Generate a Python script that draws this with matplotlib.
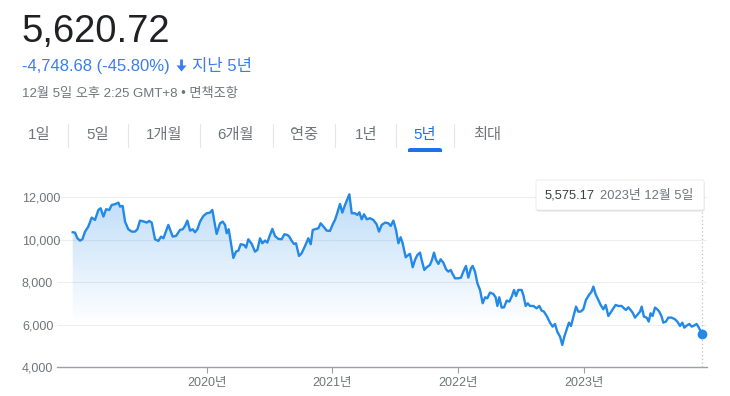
import matplotlib
matplotlib.use("Agg")
import matplotlib.pyplot as plt
import numpy as np
from matplotlib.patches import FancyBboxPatch, Polygon, Rectangle
from matplotlib.lines import Line2D

plt.rcParams['font.family'] = ['Liberation Sans', 'Noto Sans CJK KR', 'DejaVu Sans']

# ---------------- data ----------------
years = [2018.935, 2018.953, 2018.972, 2018.993, 2019.012, 2019.033, 2019.059, 2019.086, 2019.112, 2019.139,
         2019.157, 2019.179, 2019.200, 2019.226, 2019.245, 2019.271, 2019.298, 2019.311, 2019.332, 2019.351,
         2019.377, 2019.404, 2019.430, 2019.449, 2019.470, 2019.502, 2019.523, 2019.544, 2019.563, 2019.589,
         2019.616, 2019.637, 2019.656, 2019.695, 2019.730, 2019.756, 2019.788, 2019.809, 2019.828, 2019.846,
         2019.868, 2019.889, 2019.907, 2019.926, 2019.947, 2019.974, 2020.000, 2020.026, 2020.045, 2020.061,
         2020.079, 2020.106, 2020.127, 2020.146, 2020.159, 2020.175, 2020.193, 2020.212, 2020.233, 2020.252,
         2020.270, 2020.297, 2020.313, 2020.331, 2020.358, 2020.384, 2020.403, 2020.424, 2020.442, 2020.464,
         2020.482, 2020.503, 2020.522, 2020.543, 2020.570, 2020.596, 2020.617, 2020.641, 2020.657, 2020.676,
         2020.694, 2020.710, 2020.734, 2020.755, 2020.782, 2020.808, 2020.827, 2020.843, 2020.869, 2020.888,
         2020.906, 2020.933, 2020.954, 2020.980, 2021.002, 2021.020, 2021.039, 2021.060, 2021.078, 2021.100,
         2021.118, 2021.134, 2021.153, 2021.179, 2021.198, 2021.214, 2021.232, 2021.251, 2021.272, 2021.298,
         2021.325, 2021.351, 2021.370, 2021.391, 2021.418, 2021.444, 2021.463, 2021.484, 2021.505, 2021.524,
         2021.542, 2021.558, 2021.582, 2021.603, 2021.616, 2021.638, 2021.656, 2021.675, 2021.696, 2021.709,
         2021.730, 2021.749, 2021.775, 2021.791, 2021.807, 2021.823, 2021.842, 2021.860, 2021.881, 2021.903,
         2021.921, 2021.940, 2021.955, 2021.974, 2022.001, 2022.022, 2022.040, 2022.061, 2022.080, 2022.101,
         2022.114, 2022.133, 2022.152, 2022.173, 2022.194, 2022.213, 2022.231, 2022.252, 2022.279, 2022.297,
         2022.311, 2022.326, 2022.345, 2022.364, 2022.385, 2022.406, 2022.427, 2022.443, 2022.459, 2022.477,
         2022.504, 2022.517, 2022.536, 2022.552, 2022.570, 2022.597, 2022.623, 2022.644, 2022.663, 2022.681,
         2022.703, 2022.729, 2022.750, 2022.769, 2022.787, 2022.809, 2022.827, 2022.843, 2022.862, 2022.880,
         2022.896, 2022.915, 2022.936, 2022.954, 2022.973, 2022.994, 2023.015, 2023.039, 2023.060, 2023.074,
         2023.092, 2023.113, 2023.132, 2023.153, 2023.172, 2023.193, 2023.211, 2023.233, 2023.251, 2023.272,
         2023.299, 2023.317, 2023.333, 2023.352, 2023.370, 2023.386, 2023.405, 2023.423, 2023.445, 2023.458,
         2023.476, 2023.498, 2023.514, 2023.529, 2023.545, 2023.564, 2023.582, 2023.598, 2023.617, 2023.630,
         2023.651, 2023.670, 2023.696, 2023.723, 2023.741, 2023.763, 2023.781, 2023.797, 2023.816, 2023.837,
         2023.855, 2023.874, 2023.895, 2023.908, 2023.922, 2023.935]
values = [10353, 10337, 10071, 9961, 10024, 10384, 10620, 11043, 10933, 11404,
          11482, 11090, 11435, 11404, 11639, 11671, 11749, 11561, 11592, 10855,
          10494, 10384, 10384, 10494, 10902, 10855, 10808, 10886, 10808, 10024,
          9945, 10149, 10071, 10698, 10149, 10180, 10463, 10494, 10651, 10902,
          10431, 10494, 10353, 10494, 10855, 11122, 11247, 11278, 11404, 10855,
          10275, 10776, 10855, 10698, 10306, 10494, 9835, 9145, 9443, 9490,
          9788, 9757, 9631, 10024, 9804, 9443, 9522, 10071, 9835, 9961,
          9867, 10227, 10510, 10180, 10039, 10024, 10259, 10227, 10149, 9945,
          9804, 9835, 9239, 9365, 9710, 10071, 9788, 10463, 10510, 10541,
          10776, 10588, 10431, 10416, 10729, 10933, 11278, 11686, 11278, 11639,
          11906, 12141, 11247, 11247, 11169, 11294, 10965, 11200, 10965, 11012,
          10933, 10729, 10384, 10698, 10808, 10776, 10651, 10902, 10463, 9835,
          10118, 9835, 9176, 9286, 9333, 8706, 9051, 9286, 9396, 9051,
          8580, 8706, 8816, 9051, 9396, 9051, 8863, 9082, 8926, 8612,
          8502, 8580, 8392, 8188, 8188, 8220, 8502, 8769, 8220, 8659,
          8769, 8502, 7953, 7639, 7012, 7294, 7247, 7514, 7451, 7294,
          6886, 7294, 6808, 6824, 7137, 7090, 7357, 7639, 7357, 7639,
          7639, 7404, 6886, 7012, 6886, 6886, 6777, 6886, 6667, 6620,
          6416, 6102, 5914, 6039, 5679, 5443, 5051, 5443, 5788, 6102,
          5945, 6384, 6855, 6620, 6620, 6729, 7169, 7404, 7561, 7796,
          7435, 7169, 6933, 6729, 6933, 6416, 6573, 6777, 6933, 6886,
          6886, 6777, 6698, 6824, 6698, 6573, 6337, 6463, 6620, 6855,
          6384, 6337, 6149, 6541, 6416, 6808, 6729, 6620, 6384, 6102,
          6149, 6337, 6337, 6259, 6149, 5945, 6102, 5867, 5961, 6039,
          5914, 5961, 6039, 5914, 5757, 5575.17]

y_ticks = [4000, 6000, 8000, 10000, 12000]
y_tick_labels = ['4,000', '6,000', '8,000', '10,000', '12,000']
x_ticks = [2020, 2021, 2022, 2023]
x_tick_labels = ['2020년', '2021년', '2022년', '2023년']

tabs = ['1일', '5일', '1개월', '6개월', '연중', '1년', '5년', '최대']
active_tab = '5년'

price_text = '5,620.72'
change_text = '-4,748.68 (-45.80%)'
period_text = '지난 5년'
time_text = '12월 5일 오후 2:25 GMT+8 • 면책조항'
tooltip_value = '5,575.17'
tooltip_date = '2023년 12월 5일'

# ---------------- styles ----------------
W, H = 730, 396
LINE = '#2389e6'
BLUE = '#1a73e8'
BLUE_TXT = '#3b7ded'
GRAY = '#70757a'
DARK = '#202124'

fig = plt.figure(figsize=(W / 100, H / 100), dpi=100)
fig.patch.set_facecolor('white')


def P(x, y):
    return (x / W, 1 - y / H)


# ---------------- header ----------------
fig.text(*P(21, 41.7), price_text, fontsize=27.5, color=DARK, va='baseline', ha='left')
fig.text(*P(22, 71), change_text, fontsize=12, color=BLUE_TXT, va='baseline', ha='left')
# down arrow
ax_x, ax_top = 181.5, 59.5
arrow = Polygon([P(ax_x - 1.4, ax_top), P(ax_x + 1.4, ax_top), P(ax_x + 1.4, 65.5), P(ax_x + 5.0, 65.5),
                 P(ax_x, 71.5), P(ax_x - 5.0, 65.5), P(ax_x - 1.4, 65.5)],
                closed=True, transform=fig.transFigure, facecolor=BLUE_TXT, edgecolor='none')
fig.patches.append(arrow)
fig.text(*P(192, 71), period_text, fontsize=12, color=BLUE_TXT, va='baseline', ha='left')
fig.text(*P(22, 97), time_text, fontsize=9.5, color=GRAY, va='baseline', ha='left')

# ---------------- tabs ----------------
tab_x = [39, 98, 164, 236, 304, 366, 425, 487]
sep_x = [68, 128, 200, 273, 335, 396, 454]
for t, x in zip(tabs, tab_x):
    fig.text(*P(x, 135), t, fontsize=11, color=BLUE if t == active_tab else GRAY,
             ha='center', va='center')
for x in sep_x:
    fig.lines.append(Line2D([x / W, x / W], [1 - 124 / H, 1 - 147 / H], transform=fig.transFigure,
                            color='#e3e5e8', lw=0.8))
ul = FancyBboxPatch(P(408, 154), 34 / W, 6 / H, boxstyle='round,pad=0,rounding_size=0.004',
                    transform=fig.transFigure, facecolor=BLUE, edgecolor='none')
fig.patches.append(ul)
fig.patches.append(Rectangle(P(405, 158), 40 / W, 6 / H, transform=fig.transFigure,
                             facecolor='white', edgecolor='none'))

# ---------------- chart ----------------
x0_px, x1_px = 57, 706.7
y_bot_px, y_top_px = 367.3, 184.5
ax = fig.add_axes([x0_px / W, 1 - y_bot_px / H, (x1_px - x0_px) / W, (y_bot_px - y_top_px) / H])
ax.set_facecolor('none')
xmin, xmax = 2018.810, 2023.975
ymin, ymax = 4000, 12600
ax.set_xlim(xmin, xmax)
ax.set_ylim(ymin, ymax)

for s in ['top', 'right', 'left']:
    ax.spines[s].set_visible(False)
ax.spines['bottom'].set_color('#9aa0a6')
ax.spines['bottom'].set_linewidth(1)

ax.set_yticks(y_ticks)
ax.set_yticklabels(y_tick_labels)
ax.tick_params(axis='y', length=0, pad=(x0_px - 22) * 0.72, labelsize=9, labelcolor=GRAY)
for lbl in ax.get_yticklabels():
    lbl.set_horizontalalignment('left')
ax.set_xticks(x_ticks)
ax.set_xticklabels(x_tick_labels)
ax.tick_params(axis='x', length=4, width=0.8, color='#9aa0a6', pad=3, labelsize=9, labelcolor=GRAY)
for yv in y_ticks[1:]:
    ax.axhline(yv, color='#eeeeee', lw=0.8, zorder=0)

# gradient fill under line
fill = ax.fill_between(years, values, ymin, facecolor='none', edgecolor='none')
n = 256
alpha = np.clip((np.linspace(ymin, ymax, n) - 6000) / (ymax - 6000), 0, 1) * 0.32
rgba = np.zeros((n, 1, 4))
rgba[..., 0] = 0x23 / 255
rgba[..., 1] = 0x89 / 255
rgba[..., 2] = 0xe6 / 255
rgba[:, 0, 3] = alpha
im = ax.imshow(rgba, extent=[xmin, xmax, ymin, ymax], origin='lower', aspect='auto', zorder=1,
               interpolation='bilinear')
im.set_clip_path(fill.get_paths()[0], transform=ax.transData)

ax.plot(years, values, color=LINE, lw=1.7, zorder=3, solid_joinstyle='round')

# hover line and end point
tip_frac = (y_bot_px - 210) / (y_bot_px - y_top_px)
ax.axvline(years[-1], ymin=0, ymax=tip_frac, color='#bdc1c6', lw=0.9, ls=(0, (1, 2)), zorder=2)
ax.plot([years[-1]], [values[-1]], 'o', color=LINE, markersize=6, zorder=4)

# tooltip
shadow = FancyBboxPatch(P(536.5, 211.5), 168 / W, 30 / H, boxstyle='round,pad=0,rounding_size=0.003',
                        transform=fig.transFigure, facecolor='#000000', alpha=0.12, edgecolor='none')
fig.patches.append(shadow)
box = FancyBboxPatch(P(536, 210), 168 / W, 30 / H, boxstyle='round,pad=0,rounding_size=0.003',
                     transform=fig.transFigure, facecolor='white', edgecolor='#e6e6e6', lw=0.5)
fig.patches.append(box)
fig.text(*P(545, 195.5), tooltip_value, fontsize=9.3, color='#3c4043', va='center', ha='left')
fig.text(*P(599.5, 195.5), tooltip_date, fontsize=9.3, color=GRAY, va='center', ha='left')

fig.savefig('out.png', dpi=100, facecolor='white')
